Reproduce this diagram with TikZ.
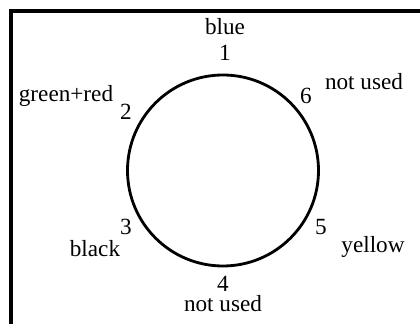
\documentclass[tikz,border=0pt]{standalone}
\usepackage{fontspec}
\setmainfont{Liberation Serif}
\tikzset{
  pinlabel/.style={font=\fontsize{13.2}{16}\selectfont, inner sep=0, anchor=base},
  ring/.style={draw=black, line width=1.6pt},
  frame/.style={draw=black, line width=2pt},
}

\begin{document}
\begin{tikzpicture}[x=0.02cm, y=-0.02cm]
    % Layout: one connector ring, pin numbers around it, wire colours outside
    \useasboundingbox (0,0) rectangle (420,324);
    \clip (0,0) rectangle (420,324);

    % --- frame (runs off the right and bottom edges) ---
    \draw[frame] (11,11) rectangle (440,344);

    % --- ring ---
    \coordinate (hub) at (223,170.5);
    \draw[ring] (hub) circle[radius=95.5];

    % --- pin numbers ---
    \node[pinlabel] (pin1) at (225,61)  {1};
    \node[pinlabel] (pin2) at (126,120) {2};
    \node[pinlabel] (pin3) at (126,235) {3};
    \node[pinlabel] (pin4) at (223,292) {4};
    \node[pinlabel] (pin5) at (321,235) {5};
    \node[pinlabel] (pin6) at (306,104) {6};

    % --- wire colours ---
    \node[pinlabel] (wire1) at (225,35)  {blue};
    \node[pinlabel] (wire2) at (66,102)  {green+red};
    \node[pinlabel] (wire3) at (95,257)  {black};
    \node[pinlabel] (wire4) at (223,312) {not used};
    \node[pinlabel] (wire5) at (373,253) {yellow};
    \node[pinlabel] (wire6) at (364,90)  {not used};
\end{tikzpicture}
\end{document}
